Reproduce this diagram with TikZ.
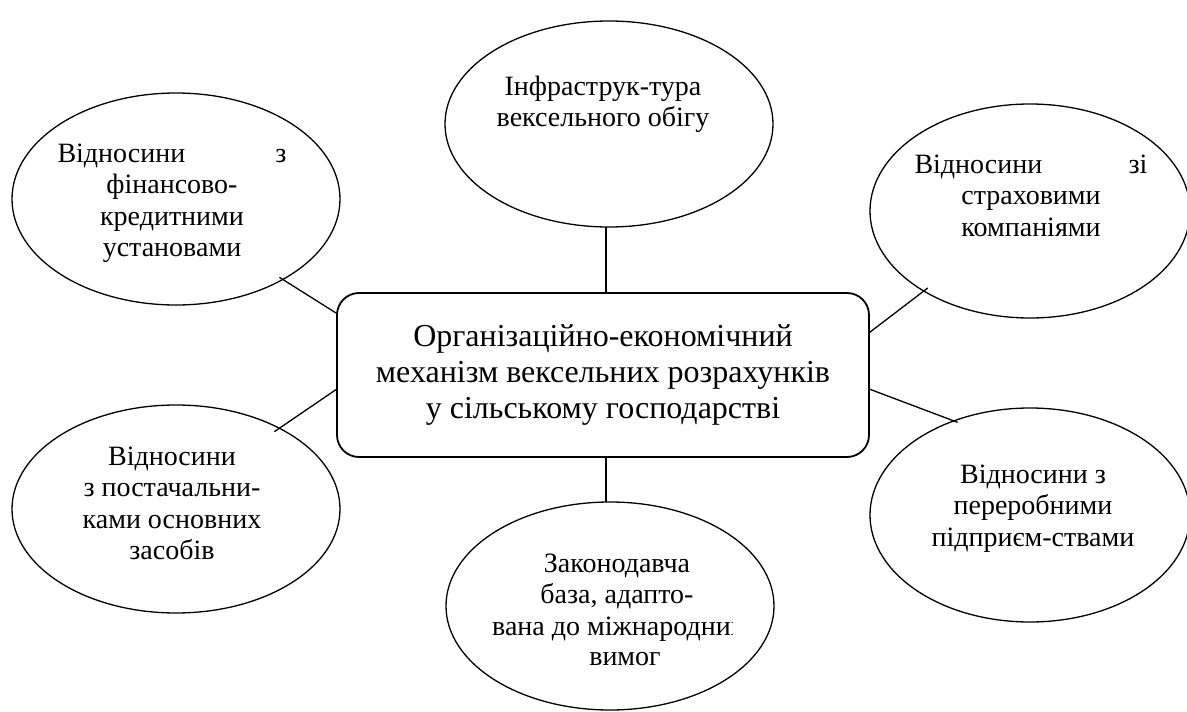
\documentclass[tikz,border=0pt]{standalone}
\usepackage{fontspec}
\setmainfont{Liberation Serif}
\usetikzlibrary{shapes.geometric}
\begin{document}
\begin{tikzpicture}[x=1pt,y=-1pt,
  bubble/.style={draw, ellipse, line width=1.3pt, inner sep=0pt, outer sep=0pt},
  hub/.style={draw, rectangle, rounded corners=22pt, line width=1.8pt,
    minimum width=532pt, minimum height=164pt, inner sep=0pt, outer sep=0pt,
    align=center, font=\fontsize{32}{36}\selectfont},
  txt/.style={anchor=base, inner sep=0pt, font=\fontsize{28}{31.5}\selectfont},
  link/.style={line width=1.3pt}]
\useasboundingbox (0,0) rectangle (1187,712);
% central box
\node[hub] (hub) at (603,375) {Організаційно-економічний\\механізм вексельних розрахунків\\у сільському господарстві};
% ellipses
\node[bubble, minimum width=328pt, minimum height=206pt] (T)  at (609,124) {};
\node[bubble, minimum width=328pt, minimum height=212pt] (TL) at (176,199) {};
\node[bubble, minimum width=320pt, minimum height=214pt] (TR) at (1030,211) {};
\node[bubble, minimum width=328pt, minimum height=208pt] (BL) at (176,509) {};
\node[bubble, minimum width=320pt, minimum height=214pt] (BR) at (1030,515) {};
\node[bubble, minimum width=328pt, minimum height=208pt] (B)  at (610,606) {};
% texts
\node[txt] (Tt) at (603,95) {\parbox[t]{300pt}{\centering Інфраструк-тура\\вексельного обігу}};
\node[txt] (TLt) at (172,162) {\parbox[t]{260pt}{\centering \makebox[229pt]{Відносини\hfill з}\\фінансово-\\кредитними\\установами}};
\node[txt] (TRt) at (1031,173) {\parbox[t]{260pt}{\centering \makebox[233pt]{Відносини\hfill зі}\\страховими\\компаніями}};
\node[txt] (BLt) at (172,465) {\parbox[t]{260pt}{\centering Відносини\\з постачальни-\\ками основних\\засобів}};
\node[txt] (BRt) at (1033,483) {\parbox[t]{260pt}{\centering Відносини з\\переробними\\підприєм-ствами}};
\node[txt] (Bt1) at (617,572) {\parbox[t]{260pt}{\centering Законодавча\\база, адапто-}};
\begin{scope}
\clip (480,600) rectangle (732,650);
\node[txt, anchor=base west] (Bt2) at (492,635) {вана до міжнародних};
\end{scope}
\node[txt] (Bt3) at (625,665) {вимог};
% connectors
\draw[link] ([xshift=-3pt]T.south) -- ([xshift=-3pt]T.south |- hub.north);
\draw[link] ([xshift=-4pt]B.north |- hub.south) -- ([xshift=-4pt]B.north);
\draw[link, shorten <=-4pt] (TL.-37.5) -- (hub.167.9);
\draw[link, shorten <=-6pt] (BL.38) -- (hub.183.9);
\draw[link, shorten <=-5pt] (TR.217.4) -- (hub.9.2);
\draw[link, shorten >=-4pt] (hub.-3.9) -- (BR.129);
\end{tikzpicture}
\end{document}
